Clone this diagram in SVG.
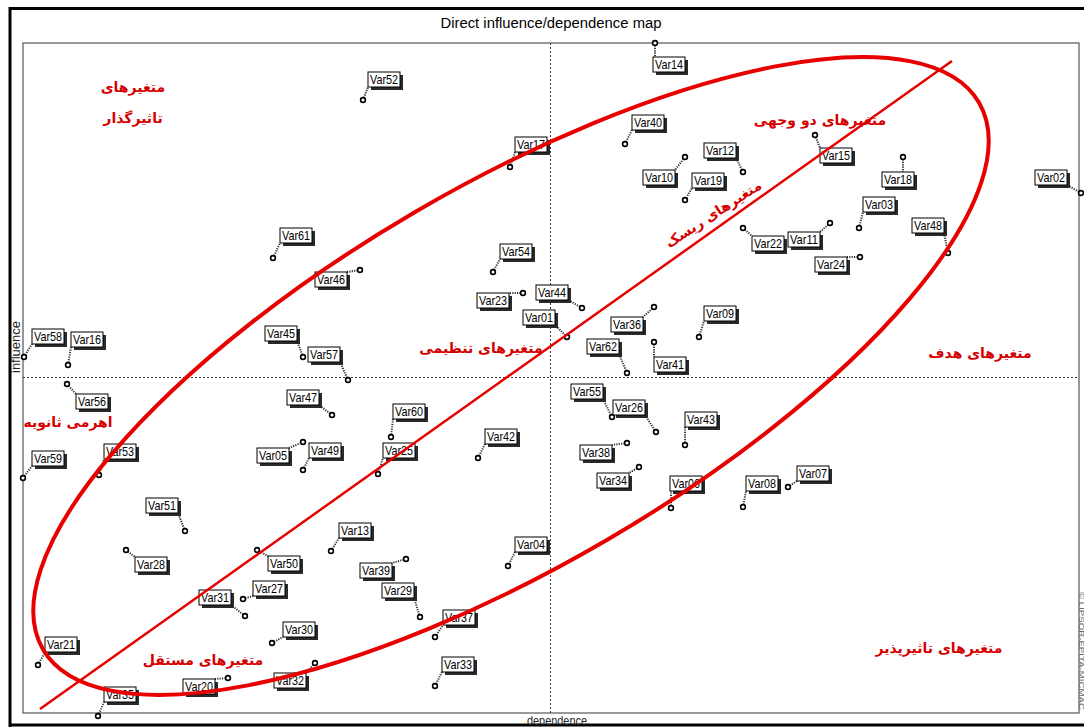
<svg xmlns="http://www.w3.org/2000/svg" width="1084" height="727" viewBox="0 0 1084 727">
<style>
.frame{fill:none;stroke:#000;stroke-width:3}
.plot{fill:#fff;stroke:#555;stroke-width:1.2}
.axis{stroke:#333;stroke-width:1;stroke-dasharray:2 2;fill:none}
.sh{fill:#2a2a2a}
.bx{fill:#fff;stroke:#000;stroke-width:1}
.lb{font-family:"Liberation Sans Narrow","Liberation Sans",Arial,sans-serif;font-size:13px;fill:#000;text-anchor:middle}
.pt{fill:#fff;stroke:#000;stroke-width:1.6}
.cn{stroke:#333;stroke-width:2;stroke-dasharray:1.2 1.2;fill:none}
.fa{font-family:"DejaVu Sans","Noto Sans",sans-serif;font-weight:bold;font-size:14px;fill:#d60000;text-anchor:middle}
.red{fill:none;stroke:#e80000}
.ttl{font-family:"Liberation Sans",Arial,sans-serif;font-size:14px;fill:#000;text-anchor:middle}
.ax{font-family:"Liberation Sans",Arial,sans-serif;font-size:12px;fill:#222;text-anchor:middle}
</style>
<rect x="0" y="0" width="1084" height="727" fill="#fff"/>
<g id="frame">
<path class="frame" d="M10,727 V8.5 H1084 M10,725 H1084"/>
<rect class="plot" x="23" y="43" width="1056" height="670"/>
<text class="ttl" x="551" y="28" textLength="221" lengthAdjust="spacingAndGlyphs">Direct influence/dependence map</text>
<text class="ax" x="557" y="725" textLength="60" lengthAdjust="spacingAndGlyphs">dependence</text>
<text class="ax" transform="translate(20,347) rotate(-90)" textLength="52" lengthAdjust="spacingAndGlyphs">influence</text>
<text font-family="Liberation Sans,Arial,sans-serif" font-size="8" fill="#666" transform="translate(1079,592) rotate(90)" textLength="118" lengthAdjust="spacingAndGlyphs">© LIPSOR-EPITA-MICMAC</text>
<line class="axis" x1="550.5" y1="43" x2="550.5" y2="713"/>
<line class="axis" x1="23" y1="377.5" x2="1079" y2="377.5"/>
</g>
<g id="connectors">
<line class="cn" x1="363" y1="100" x2="368" y2="87"/>
<line class="cn" x1="655" y1="43" x2="655" y2="57"/>
<line class="cn" x1="625" y1="144" x2="632" y2="130"/>
<line class="cn" x1="510" y1="167" x2="515" y2="152"/>
<line class="cn" x1="685" y1="157" x2="675" y2="170"/>
<line class="cn" x1="685" y1="200" x2="692" y2="188"/>
<line class="cn" x1="743" y1="172" x2="736" y2="158"/>
<line class="cn" x1="815" y1="135" x2="820" y2="148"/>
<line class="cn" x1="903" y1="157" x2="903" y2="172"/>
<line class="cn" x1="859" y1="228" x2="863" y2="212"/>
<line class="cn" x1="948" y1="253" x2="944" y2="233"/>
<line class="cn" x1="1081" y1="193" x2="1067" y2="185"/>
<line class="cn" x1="743" y1="228" x2="752" y2="236"/>
<line class="cn" x1="830" y1="223" x2="820" y2="232"/>
<line class="cn" x1="860" y1="257" x2="847" y2="257"/>
<line class="cn" x1="273" y1="258" x2="280" y2="243"/>
<line class="cn" x1="360" y1="270" x2="347" y2="272"/>
<line class="cn" x1="493" y1="272" x2="500" y2="259"/>
<line class="cn" x1="523" y1="293" x2="509" y2="293"/>
<line class="cn" x1="582" y1="308" x2="568" y2="300"/>
<line class="cn" x1="567" y1="337" x2="555" y2="325"/>
<line class="cn" x1="654" y1="307" x2="643" y2="317"/>
<line class="cn" x1="699" y1="337" x2="704" y2="321"/>
<line class="cn" x1="627" y1="373" x2="619" y2="354"/>
<line class="cn" x1="654" y1="342" x2="654" y2="357"/>
<line class="cn" x1="24" y1="357" x2="32" y2="344"/>
<line class="cn" x1="68" y1="365" x2="71" y2="347"/>
<line class="cn" x1="303" y1="357" x2="297" y2="341"/>
<line class="cn" x1="348" y1="380" x2="340" y2="362"/>
<line class="cn" x1="67" y1="384" x2="76" y2="394"/>
<line class="cn" x1="332" y1="415" x2="319" y2="405"/>
<line class="cn" x1="303" y1="442" x2="289" y2="448"/>
<line class="cn" x1="303" y1="470" x2="309" y2="458"/>
<line class="cn" x1="99" y1="475" x2="104" y2="459"/>
<line class="cn" x1="23" y1="478" x2="32" y2="466"/>
<line class="cn" x1="391" y1="437" x2="393" y2="419"/>
<line class="cn" x1="378" y1="474" x2="383" y2="458"/>
<line class="cn" x1="478" y1="458" x2="485" y2="444"/>
<line class="cn" x1="612" y1="417" x2="603" y2="399"/>
<line class="cn" x1="656" y1="432" x2="645" y2="415"/>
<line class="cn" x1="685" y1="445" x2="685" y2="427"/>
<line class="cn" x1="627" y1="443" x2="612" y2="445"/>
<line class="cn" x1="639" y1="467" x2="629" y2="473"/>
<line class="cn" x1="671" y1="508" x2="671" y2="491"/>
<line class="cn" x1="743" y1="507" x2="746" y2="491"/>
<line class="cn" x1="788" y1="487" x2="797" y2="481"/>
<line class="cn" x1="185" y1="531" x2="178" y2="513"/>
<line class="cn" x1="126" y1="550" x2="135" y2="557"/>
<line class="cn" x1="331" y1="551" x2="339" y2="538"/>
<line class="cn" x1="257" y1="550" x2="268" y2="556"/>
<line class="cn" x1="406" y1="559" x2="392" y2="563"/>
<line class="cn" x1="245" y1="616" x2="231" y2="605"/>
<line class="cn" x1="243" y1="599" x2="253" y2="596"/>
<line class="cn" x1="420" y1="617" x2="414" y2="598"/>
<line class="cn" x1="272" y1="643" x2="283" y2="637"/>
<line class="cn" x1="435" y1="637" x2="443" y2="625"/>
<line class="cn" x1="508" y1="566" x2="515" y2="552"/>
<line class="cn" x1="435" y1="686" x2="442" y2="672"/>
<line class="cn" x1="38" y1="665" x2="45" y2="652"/>
<line class="cn" x1="315" y1="663" x2="306" y2="673"/>
<line class="cn" x1="228" y1="678" x2="215" y2="679"/>
<line class="cn" x1="98" y1="716" x2="104" y2="702"/>
</g>
<g id="nodes">
<g id="Var52"><rect class="sh" x="371" y="75" width="32" height="15"/><rect class="bx" x="368" y="72" width="32" height="15"/><text class="lb" x="384" y="84" textLength="28" lengthAdjust="spacingAndGlyphs">Var52</text><circle class="pt" cx="363" cy="100" r="2.4"/></g>
<g id="Var14"><rect class="sh" x="656" y="60" width="32" height="15"/><rect class="bx" x="653" y="57" width="32" height="15"/><text class="lb" x="669" y="69" textLength="28" lengthAdjust="spacingAndGlyphs">Var14</text><circle class="pt" cx="655" cy="43" r="2.4"/></g>
<g id="Var40"><rect class="sh" x="635" y="118" width="32" height="15"/><rect class="bx" x="632" y="115" width="32" height="15"/><text class="lb" x="648" y="127" textLength="28" lengthAdjust="spacingAndGlyphs">Var40</text><circle class="pt" cx="625" cy="144" r="2.4"/></g>
<g id="Var17"><rect class="sh" x="518" y="140" width="32" height="15"/><rect class="bx" x="515" y="137" width="32" height="15"/><text class="lb" x="531" y="149" textLength="28" lengthAdjust="spacingAndGlyphs">Var17</text><circle class="pt" cx="510" cy="167" r="2.4"/></g>
<g id="Var10"><rect class="sh" x="646" y="173" width="32" height="15"/><rect class="bx" x="643" y="170" width="32" height="15"/><text class="lb" x="659" y="182" textLength="28" lengthAdjust="spacingAndGlyphs">Var10</text><circle class="pt" cx="685" cy="157" r="2.4"/></g>
<g id="Var19"><rect class="sh" x="695" y="176" width="32" height="15"/><rect class="bx" x="692" y="173" width="32" height="15"/><text class="lb" x="708" y="185" textLength="28" lengthAdjust="spacingAndGlyphs">Var19</text><circle class="pt" cx="685" cy="200" r="2.4"/></g>
<g id="Var12"><rect class="sh" x="707" y="146" width="32" height="15"/><rect class="bx" x="704" y="143" width="32" height="15"/><text class="lb" x="720" y="155" textLength="28" lengthAdjust="spacingAndGlyphs">Var12</text><circle class="pt" cx="743" cy="172" r="2.4"/></g>
<g id="Var15"><rect class="sh" x="823" y="151" width="32" height="15"/><rect class="bx" x="820" y="148" width="32" height="15"/><text class="lb" x="836" y="160" textLength="28" lengthAdjust="spacingAndGlyphs">Var15</text><circle class="pt" cx="815" cy="135" r="2.4"/></g>
<g id="Var18"><rect class="sh" x="885" y="175" width="32" height="15"/><rect class="bx" x="882" y="172" width="32" height="15"/><text class="lb" x="898" y="184" textLength="28" lengthAdjust="spacingAndGlyphs">Var18</text><circle class="pt" cx="903" cy="157" r="2.4"/></g>
<g id="Var03"><rect class="sh" x="866" y="200" width="32" height="15"/><rect class="bx" x="863" y="197" width="32" height="15"/><text class="lb" x="879" y="209" textLength="28" lengthAdjust="spacingAndGlyphs">Var03</text><circle class="pt" cx="859" cy="228" r="2.4"/></g>
<g id="Var48"><rect class="sh" x="915" y="221" width="32" height="15"/><rect class="bx" x="912" y="218" width="32" height="15"/><text class="lb" x="928" y="230" textLength="28" lengthAdjust="spacingAndGlyphs">Var48</text><circle class="pt" cx="948" cy="253" r="2.4"/></g>
<g id="Var02"><rect class="sh" x="1038" y="173" width="32" height="15"/><rect class="bx" x="1035" y="170" width="32" height="15"/><text class="lb" x="1051" y="182" textLength="28" lengthAdjust="spacingAndGlyphs">Var02</text><circle class="pt" cx="1081" cy="193" r="2.4"/></g>
<g id="Var22"><rect class="sh" x="755" y="239" width="32" height="15"/><rect class="bx" x="752" y="236" width="32" height="15"/><text class="lb" x="768" y="248" textLength="28" lengthAdjust="spacingAndGlyphs">Var22</text><circle class="pt" cx="743" cy="228" r="2.4"/></g>
<g id="Var11"><rect class="sh" x="791" y="235" width="32" height="15"/><rect class="bx" x="788" y="232" width="32" height="15"/><text class="lb" x="804" y="244" textLength="28" lengthAdjust="spacingAndGlyphs">Var11</text><circle class="pt" cx="830" cy="223" r="2.4"/></g>
<g id="Var24"><rect class="sh" x="818" y="260" width="32" height="15"/><rect class="bx" x="815" y="257" width="32" height="15"/><text class="lb" x="831" y="269" textLength="28" lengthAdjust="spacingAndGlyphs">Var24</text><circle class="pt" cx="860" cy="257" r="2.4"/></g>
<g id="Var61"><rect class="sh" x="283" y="231" width="32" height="15"/><rect class="bx" x="280" y="228" width="32" height="15"/><text class="lb" x="296" y="240" textLength="28" lengthAdjust="spacingAndGlyphs">Var61</text><circle class="pt" cx="273" cy="258" r="2.4"/></g>
<g id="Var46"><rect class="sh" x="318" y="275" width="32" height="15"/><rect class="bx" x="315" y="272" width="32" height="15"/><text class="lb" x="331" y="284" textLength="28" lengthAdjust="spacingAndGlyphs">Var46</text><circle class="pt" cx="360" cy="270" r="2.4"/></g>
<g id="Var54"><rect class="sh" x="503" y="247" width="32" height="15"/><rect class="bx" x="500" y="244" width="32" height="15"/><text class="lb" x="516" y="256" textLength="28" lengthAdjust="spacingAndGlyphs">Var54</text><circle class="pt" cx="493" cy="272" r="2.4"/></g>
<g id="Var23"><rect class="sh" x="480" y="296" width="32" height="15"/><rect class="bx" x="477" y="293" width="32" height="15"/><text class="lb" x="493" y="305" textLength="28" lengthAdjust="spacingAndGlyphs">Var23</text><circle class="pt" cx="523" cy="293" r="2.4"/></g>
<g id="Var44"><rect class="sh" x="539" y="288" width="32" height="15"/><rect class="bx" x="536" y="285" width="32" height="15"/><text class="lb" x="552" y="297" textLength="28" lengthAdjust="spacingAndGlyphs">Var44</text><circle class="pt" cx="582" cy="308" r="2.4"/></g>
<g id="Var01"><rect class="sh" x="526" y="313" width="32" height="15"/><rect class="bx" x="523" y="310" width="32" height="15"/><text class="lb" x="539" y="322" textLength="28" lengthAdjust="spacingAndGlyphs">Var01</text><circle class="pt" cx="567" cy="337" r="2.4"/></g>
<g id="Var36"><rect class="sh" x="614" y="320" width="32" height="15"/><rect class="bx" x="611" y="317" width="32" height="15"/><text class="lb" x="627" y="329" textLength="28" lengthAdjust="spacingAndGlyphs">Var36</text><circle class="pt" cx="654" cy="307" r="2.4"/></g>
<g id="Var09"><rect class="sh" x="707" y="309" width="32" height="15"/><rect class="bx" x="704" y="306" width="32" height="15"/><text class="lb" x="720" y="318" textLength="28" lengthAdjust="spacingAndGlyphs">Var09</text><circle class="pt" cx="699" cy="337" r="2.4"/></g>
<g id="Var62"><rect class="sh" x="590" y="342" width="32" height="15"/><rect class="bx" x="587" y="339" width="32" height="15"/><text class="lb" x="603" y="351" textLength="28" lengthAdjust="spacingAndGlyphs">Var62</text><circle class="pt" cx="627" cy="373" r="2.4"/></g>
<g id="Var41"><rect class="sh" x="657" y="360" width="32" height="15"/><rect class="bx" x="654" y="357" width="32" height="15"/><text class="lb" x="670" y="369" textLength="28" lengthAdjust="spacingAndGlyphs">Var41</text><circle class="pt" cx="654" cy="342" r="2.4"/></g>
<g id="Var58"><rect class="sh" x="35" y="332" width="32" height="15"/><rect class="bx" x="32" y="329" width="32" height="15"/><text class="lb" x="48" y="341" textLength="28" lengthAdjust="spacingAndGlyphs">Var58</text><circle class="pt" cx="24" cy="357" r="2.4"/></g>
<g id="Var16"><rect class="sh" x="74" y="335" width="32" height="15"/><rect class="bx" x="71" y="332" width="32" height="15"/><text class="lb" x="87" y="344" textLength="28" lengthAdjust="spacingAndGlyphs">Var16</text><circle class="pt" cx="68" cy="365" r="2.4"/></g>
<g id="Var45"><rect class="sh" x="268" y="329" width="32" height="15"/><rect class="bx" x="265" y="326" width="32" height="15"/><text class="lb" x="281" y="338" textLength="28" lengthAdjust="spacingAndGlyphs">Var45</text><circle class="pt" cx="303" cy="357" r="2.4"/></g>
<g id="Var57"><rect class="sh" x="311" y="350" width="32" height="15"/><rect class="bx" x="308" y="347" width="32" height="15"/><text class="lb" x="324" y="359" textLength="28" lengthAdjust="spacingAndGlyphs">Var57</text><circle class="pt" cx="348" cy="380" r="2.4"/></g>
<g id="Var56"><rect class="sh" x="79" y="397" width="32" height="15"/><rect class="bx" x="76" y="394" width="32" height="15"/><text class="lb" x="92" y="406" textLength="28" lengthAdjust="spacingAndGlyphs">Var56</text><circle class="pt" cx="67" cy="384" r="2.4"/></g>
<g id="Var47"><rect class="sh" x="290" y="393" width="32" height="15"/><rect class="bx" x="287" y="390" width="32" height="15"/><text class="lb" x="303" y="402" textLength="28" lengthAdjust="spacingAndGlyphs">Var47</text><circle class="pt" cx="332" cy="415" r="2.4"/></g>
<g id="Var05"><rect class="sh" x="260" y="451" width="32" height="15"/><rect class="bx" x="257" y="448" width="32" height="15"/><text class="lb" x="273" y="460" textLength="28" lengthAdjust="spacingAndGlyphs">Var05</text><circle class="pt" cx="303" cy="442" r="2.4"/></g>
<g id="Var49"><rect class="sh" x="312" y="446" width="32" height="15"/><rect class="bx" x="309" y="443" width="32" height="15"/><text class="lb" x="325" y="455" textLength="28" lengthAdjust="spacingAndGlyphs">Var49</text><circle class="pt" cx="303" cy="470" r="2.4"/></g>
<g id="Var53"><rect class="sh" x="107" y="447" width="32" height="15"/><rect class="bx" x="104" y="444" width="32" height="15"/><text class="lb" x="120" y="456" textLength="28" lengthAdjust="spacingAndGlyphs">Var53</text><circle class="pt" cx="99" cy="475" r="2.4"/></g>
<g id="Var59"><rect class="sh" x="35" y="454" width="32" height="15"/><rect class="bx" x="32" y="451" width="32" height="15"/><text class="lb" x="48" y="463" textLength="28" lengthAdjust="spacingAndGlyphs">Var59</text><circle class="pt" cx="23" cy="478" r="2.4"/></g>
<g id="Var60"><rect class="sh" x="396" y="407" width="32" height="15"/><rect class="bx" x="393" y="404" width="32" height="15"/><text class="lb" x="409" y="416" textLength="28" lengthAdjust="spacingAndGlyphs">Var60</text><circle class="pt" cx="391" cy="437" r="2.4"/></g>
<g id="Var25"><rect class="sh" x="386" y="446" width="32" height="15"/><rect class="bx" x="383" y="443" width="32" height="15"/><text class="lb" x="399" y="455" textLength="28" lengthAdjust="spacingAndGlyphs">Var25</text><circle class="pt" cx="378" cy="474" r="2.4"/></g>
<g id="Var42"><rect class="sh" x="488" y="432" width="32" height="15"/><rect class="bx" x="485" y="429" width="32" height="15"/><text class="lb" x="501" y="441" textLength="28" lengthAdjust="spacingAndGlyphs">Var42</text><circle class="pt" cx="478" cy="458" r="2.4"/></g>
<g id="Var55"><rect class="sh" x="574" y="387" width="32" height="15"/><rect class="bx" x="571" y="384" width="32" height="15"/><text class="lb" x="587" y="396" textLength="28" lengthAdjust="spacingAndGlyphs">Var55</text><circle class="pt" cx="612" cy="417" r="2.4"/></g>
<g id="Var26"><rect class="sh" x="616" y="403" width="32" height="15"/><rect class="bx" x="613" y="400" width="32" height="15"/><text class="lb" x="629" y="412" textLength="28" lengthAdjust="spacingAndGlyphs">Var26</text><circle class="pt" cx="656" cy="432" r="2.4"/></g>
<g id="Var43"><rect class="sh" x="688" y="415" width="32" height="15"/><rect class="bx" x="685" y="412" width="32" height="15"/><text class="lb" x="701" y="424" textLength="28" lengthAdjust="spacingAndGlyphs">Var43</text><circle class="pt" cx="685" cy="445" r="2.4"/></g>
<g id="Var38"><rect class="sh" x="583" y="448" width="32" height="15"/><rect class="bx" x="580" y="445" width="32" height="15"/><text class="lb" x="596" y="457" textLength="28" lengthAdjust="spacingAndGlyphs">Var38</text><circle class="pt" cx="627" cy="443" r="2.4"/></g>
<g id="Var34"><rect class="sh" x="600" y="476" width="32" height="15"/><rect class="bx" x="597" y="473" width="32" height="15"/><text class="lb" x="613" y="485" textLength="28" lengthAdjust="spacingAndGlyphs">Var34</text><circle class="pt" cx="639" cy="467" r="2.4"/></g>
<g id="Var06"><rect class="sh" x="673" y="479" width="32" height="15"/><rect class="bx" x="670" y="476" width="32" height="15"/><text class="lb" x="686" y="488" textLength="28" lengthAdjust="spacingAndGlyphs">Var06</text><circle class="pt" cx="671" cy="508" r="2.4"/></g>
<g id="Var08"><rect class="sh" x="749" y="479" width="32" height="15"/><rect class="bx" x="746" y="476" width="32" height="15"/><text class="lb" x="762" y="488" textLength="28" lengthAdjust="spacingAndGlyphs">Var08</text><circle class="pt" cx="743" cy="507" r="2.4"/></g>
<g id="Var07"><rect class="sh" x="800" y="469" width="32" height="15"/><rect class="bx" x="797" y="466" width="32" height="15"/><text class="lb" x="813" y="478" textLength="28" lengthAdjust="spacingAndGlyphs">Var07</text><circle class="pt" cx="788" cy="487" r="2.4"/></g>
<g id="Var51"><rect class="sh" x="149" y="501" width="32" height="15"/><rect class="bx" x="146" y="498" width="32" height="15"/><text class="lb" x="162" y="510" textLength="28" lengthAdjust="spacingAndGlyphs">Var51</text><circle class="pt" cx="185" cy="531" r="2.4"/></g>
<g id="Var28"><rect class="sh" x="138" y="560" width="32" height="15"/><rect class="bx" x="135" y="557" width="32" height="15"/><text class="lb" x="151" y="569" textLength="28" lengthAdjust="spacingAndGlyphs">Var28</text><circle class="pt" cx="126" cy="550" r="2.4"/></g>
<g id="Var13"><rect class="sh" x="342" y="526" width="32" height="15"/><rect class="bx" x="339" y="523" width="32" height="15"/><text class="lb" x="355" y="535" textLength="28" lengthAdjust="spacingAndGlyphs">Var13</text><circle class="pt" cx="331" cy="551" r="2.4"/></g>
<g id="Var50"><rect class="sh" x="271" y="559" width="32" height="15"/><rect class="bx" x="268" y="556" width="32" height="15"/><text class="lb" x="284" y="568" textLength="28" lengthAdjust="spacingAndGlyphs">Var50</text><circle class="pt" cx="257" cy="550" r="2.4"/></g>
<g id="Var39"><rect class="sh" x="363" y="566" width="32" height="15"/><rect class="bx" x="360" y="563" width="32" height="15"/><text class="lb" x="376" y="575" textLength="28" lengthAdjust="spacingAndGlyphs">Var39</text><circle class="pt" cx="406" cy="559" r="2.4"/></g>
<g id="Var31"><rect class="sh" x="202" y="593" width="32" height="15"/><rect class="bx" x="199" y="590" width="32" height="15"/><text class="lb" x="215" y="602" textLength="28" lengthAdjust="spacingAndGlyphs">Var31</text><circle class="pt" cx="245" cy="616" r="2.4"/></g>
<g id="Var27"><rect class="sh" x="256" y="584" width="32" height="15"/><rect class="bx" x="253" y="581" width="32" height="15"/><text class="lb" x="269" y="593" textLength="28" lengthAdjust="spacingAndGlyphs">Var27</text><circle class="pt" cx="243" cy="599" r="2.4"/></g>
<g id="Var29"><rect class="sh" x="385" y="586" width="32" height="15"/><rect class="bx" x="382" y="583" width="32" height="15"/><text class="lb" x="398" y="595" textLength="28" lengthAdjust="spacingAndGlyphs">Var29</text><circle class="pt" cx="420" cy="617" r="2.4"/></g>
<g id="Var30"><rect class="sh" x="286" y="625" width="32" height="15"/><rect class="bx" x="283" y="622" width="32" height="15"/><text class="lb" x="299" y="634" textLength="28" lengthAdjust="spacingAndGlyphs">Var30</text><circle class="pt" cx="272" cy="643" r="2.4"/></g>
<g id="Var37"><rect class="sh" x="446" y="613" width="32" height="15"/><rect class="bx" x="443" y="610" width="32" height="15"/><text class="lb" x="459" y="622" textLength="28" lengthAdjust="spacingAndGlyphs">Var37</text><circle class="pt" cx="435" cy="637" r="2.4"/></g>
<g id="Var04"><rect class="sh" x="518" y="540" width="32" height="15"/><rect class="bx" x="515" y="537" width="32" height="15"/><text class="lb" x="531" y="549" textLength="28" lengthAdjust="spacingAndGlyphs">Var04</text><circle class="pt" cx="508" cy="566" r="2.4"/></g>
<g id="Var33"><rect class="sh" x="445" y="660" width="32" height="15"/><rect class="bx" x="442" y="657" width="32" height="15"/><text class="lb" x="458" y="669" textLength="28" lengthAdjust="spacingAndGlyphs">Var33</text><circle class="pt" cx="435" cy="686" r="2.4"/></g>
<g id="Var21"><rect class="sh" x="48" y="640" width="32" height="15"/><rect class="bx" x="45" y="637" width="32" height="15"/><text class="lb" x="61" y="649" textLength="28" lengthAdjust="spacingAndGlyphs">Var21</text><circle class="pt" cx="38" cy="665" r="2.4"/></g>
<g id="Var32"><rect class="sh" x="277" y="676" width="32" height="15"/><rect class="bx" x="274" y="673" width="32" height="15"/><text class="lb" x="290" y="685" textLength="28" lengthAdjust="spacingAndGlyphs">Var32</text><circle class="pt" cx="315" cy="663" r="2.4"/></g>
<g id="Var20"><rect class="sh" x="186" y="682" width="32" height="15"/><rect class="bx" x="183" y="679" width="32" height="15"/><text class="lb" x="199" y="691" textLength="28" lengthAdjust="spacingAndGlyphs">Var20</text><circle class="pt" cx="228" cy="678" r="2.4"/></g>
<g id="Var35"><rect class="sh" x="107" y="690" width="32" height="15"/><rect class="bx" x="104" y="687" width="32" height="15"/><text class="lb" x="120" y="699" textLength="28" lengthAdjust="spacingAndGlyphs">Var35</text><circle class="pt" cx="98" cy="716" r="2.4"/></g>
</g>
<g id="overlay">
<ellipse class="red" cx="511" cy="376" rx="542" ry="190" transform="rotate(-30.3 511 376)" stroke-width="4"/>
<line class="red" x1="40" y1="709" x2="952" y2="61" stroke-width="2.5"/>
</g>
<g id="quadrant-labels">
<text class="fa" x="133" y="92">متغیرهای</text>
<text class="fa" x="133" y="123">تاثیرگذار</text>
<text class="fa" x="820" y="125">متغیرهای دو وجهی</text>
<text class="fa" x="0" y="0" font-size="12" transform="translate(716,218) rotate(-33)">متغیرهای ریسک</text>
<text class="fa" x="481" y="353">متغیرهای تنظیمی</text>
<text class="fa" x="980" y="358">متغیرهای هدف</text>
<text class="fa" x="68" y="427">اهرمی ثانویه</text>
<text class="fa" x="203" y="665">متغیرهای مستقل</text>
<text class="fa" x="939" y="653">متغیرهای تاثیرپذیر</text>
</g>
</svg>
